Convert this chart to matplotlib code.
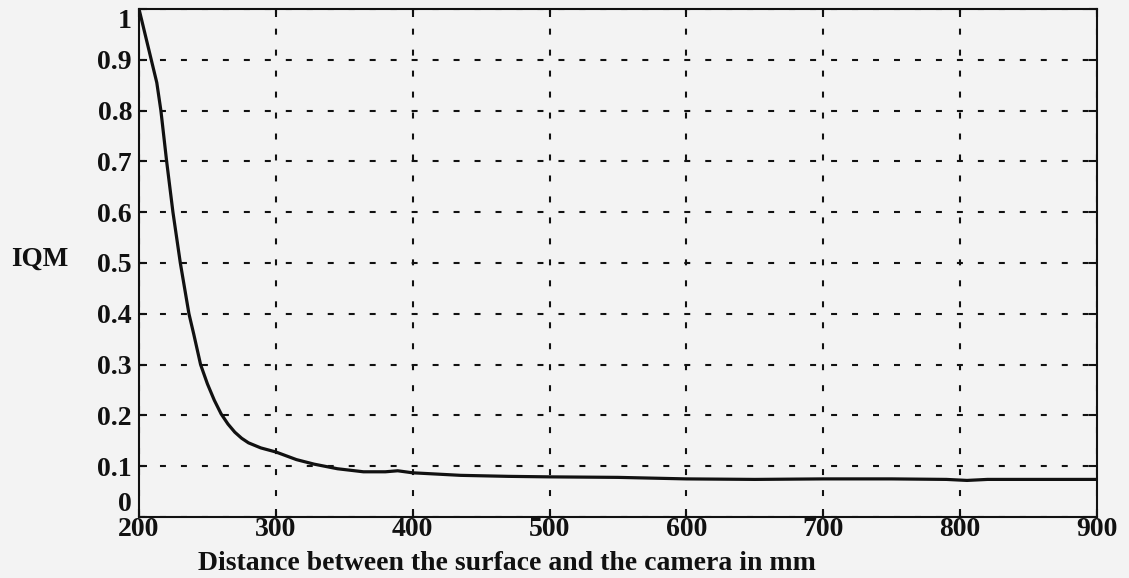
import matplotlib
matplotlib.use("Agg")
import matplotlib.pyplot as plt
import numpy as np

# Data
distance_mm = [200, 213, 216, 220.2, 224.8, 230.2, 236.5, 240, 245, 250, 255,
               260, 265, 270, 275, 280, 289, 300, 315, 328, 345, 364, 380, 389, 400, 435,
               470, 500, 550, 600, 650, 700, 750, 790, 805, 820, 900]
iqm = [1.0, 0.855, 0.80, 0.70, 0.60, 0.50, 0.40, 0.36, 0.30, 0.262, 0.23,
       0.203, 0.183, 0.167, 0.155, 0.146, 0.136, 0.128, 0.113, 0.104, 0.095, 0.089,
       0.089, 0.091, 0.087, 0.082, 0.080, 0.079, 0.078, 0.075, 0.074, 0.075, 0.075,
       0.074, 0.072, 0.074, 0.074]

x_ticks = [200, 300, 400, 500, 600, 700, 800, 900]
y_ticks = [0, 0.1, 0.2, 0.3, 0.4, 0.5, 0.6, 0.7, 0.8, 0.9, 1]
y_tick_labels = ["0", "0.1", "0.2", "0.3", "0.4", "0.5", "0.6", "0.7", "0.8", "0.9", "1"]
x_label = "Distance between the surface and the camera in mm"
y_label = "IQM"

plt.rcParams['font.family'] = ['Liberation Serif', 'DejaVu Serif']
plt.rcParams['font.weight'] = 'bold'
plt.rcParams['lines.scale_dashes'] = False

W, H = 1129, 578
bg = '#f3f3f3'
fig = plt.figure(figsize=(W / 100, H / 100), dpi=100, facecolor=bg)
ax = fig.add_axes([139 / W, 1 - 517 / H, (1097 - 139) / W, (517 - 9) / H])
ax.set_facecolor(bg)

ax.plot(distance_mm, iqm, color='#111111', lw=2.3, zorder=3,
        solid_joinstyle='round')

ax.set_xlim(200, 900)
ax.set_ylim(0, 1)
ax.set_xticks(x_ticks)
ax.set_xticklabels([str(v) for v in x_ticks])
ax.set_yticks(y_ticks)
ax.set_yticklabels(y_tick_labels)

ax.grid(True, color='#111111', lw=1.5, dashes=(4.3, 10.8))
for s in ax.spines.values():
    s.set_linewidth(1.5)
    s.set_color('#111111')

ax.tick_params(axis='both', direction='in', length=6, width=1.5, colors='#111111',
               labelsize=20, top=True, right=True)
ax.tick_params(axis='x', pad=0)
ax.tick_params(axis='y', pad=5)

ylabels = ax.get_yticklabels()
ylabels[-1].set_va('top')
ylabels[0].set_va('bottom')

fig.text(40 / W, 1 - 259 / H, y_label, ha='center', va='center', fontsize=19.5,
         fontweight='bold', color='#111111')
fig.text(198 / W, 1 - 570 / H, x_label, ha='left', va='baseline', fontsize=20,
         fontweight='bold', color='#111111')

fig.savefig('out.png', dpi=100, facecolor=bg)
